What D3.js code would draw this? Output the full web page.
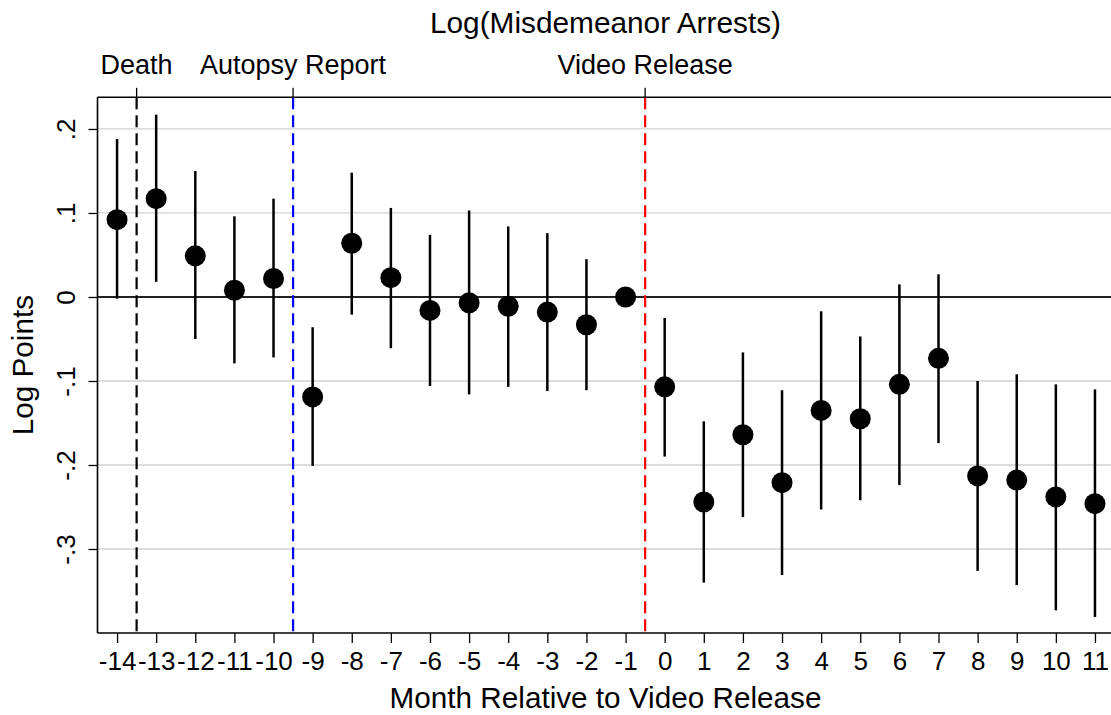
<!DOCTYPE html>
<html>
<head>
<meta charset="utf-8">
<script src="https://cdn.jsdelivr.net/npm/d3@7"></script>
<style>
  html, body { margin: 0; padding: 0; background: #fff; }
  svg { display: block; font-family: "Liberation Sans", Arial, sans-serif; }
</style>
</head>
<body>
<svg id="chart" width="1111" height="715"></svg>
<script>
// Event-study estimates: log misdemeanor arrests by month relative to the video release
const months = [-14, -13, -12, -11, -10, -9, -8, -7, -6, -5, -4, -3, -2, -1, 0, 1, 2, 3, 4, 5, 6, 7, 8, 9, 10, 11];
const coef  = [0.092, 0.117, 0.049, 0.008, 0.022, -0.119, 0.064, 0.023, -0.016, -0.007, -0.011, -0.018, -0.033, 0,
               -0.107, -0.244, -0.164, -0.221, -0.135, -0.145, -0.104, -0.073, -0.213, -0.218, -0.238, -0.246];
const lower = [-0.002, 0.018, -0.050, -0.079, -0.072, -0.201, -0.021, -0.061, -0.106, -0.116, -0.107, -0.112, -0.111, null,
               -0.190, -0.340, -0.262, -0.331, -0.253, -0.242, -0.224, -0.174, -0.326, -0.343, -0.373, -0.381];
const upper = [0.188, 0.217, 0.150, 0.096, 0.117, -0.036, 0.148, 0.106, 0.074, 0.103, 0.084, 0.076, 0.045, null,
               -0.025, -0.148, -0.066, -0.111, -0.017, -0.047, 0.015, 0.027, -0.100, -0.092, -0.104, -0.110];

const yTicks = [-0.3, -0.2, -0.1, 0, 0.1, 0.2];
const yTickLabels = ["-.3", "-.2", "-.1", "0", ".1", ".2"];

const events = [
  { label: "Death", at: -13.5, color: "#000000" },
  { label: "Autopsy Report", at: -9.5, color: "#0000ff" },
  { label: "Video Release", at: -0.5, color: "#ff0000" }
];

const titleText = "Log(Misdemeanor Arrests)";
const xTitle = "Month Relative to Video Release";
const yTitle = "Log Points";

const svg = d3.select("#chart");
const plot = { left: 97.5, right: 1112, top: 97.3, bottom: 633 };

const x = d3.scaleLinear().domain([-14.5, 11.41]).range([plot.left, 1111]);
const y = d3.scaleLinear().domain([-0.4, 0.2377]).range([plot.bottom, plot.top]);

// horizontal gridlines
svg.append("g").selectAll("line")
  .data(yTicks.filter(d => d !== 0))
  .join("line")
  .attr("x1", plot.left).attr("x2", plot.right)
  .attr("y1", d => y(d)).attr("y2", d => y(d))
  .attr("stroke", "#d2d2d2").attr("stroke-width", 1.3);

// zero reference line
svg.append("line")
  .attr("x1", plot.left).attr("x2", plot.right)
  .attr("y1", y(0)).attr("y2", y(0))
  .attr("stroke", "#222").attr("stroke-width", 2);

// event markers: dashed verticals plus ticks and labels above the frame
const ev = svg.append("g");
ev.selectAll("line.dash").data(events).join("line")
  .attr("class", "dash")
  .attr("x1", d => x(d.at)).attr("x2", d => x(d.at))
  .attr("y1", plot.top).attr("y2", plot.bottom)
  .attr("stroke", d => d.color).attr("stroke-width", 2.2)
  .attr("stroke-dasharray", "12,6");
ev.selectAll("line.tick").data(events).join("line")
  .attr("class", "tick")
  .attr("x1", d => x(d.at)).attr("x2", d => x(d.at))
  .attr("y1", plot.top - 9.5).attr("y2", plot.top)
  .attr("stroke", "#000").attr("stroke-width", 1.3);
ev.selectAll("text").data(events).join("text")
  .attr("x", d => x(d.at)).attr("y", 74)
  .attr("text-anchor", "middle")
  .attr("font-size", 27)
  .text(d => d.label);

// frame: top border and left/bottom axes
svg.append("line")
  .attr("x1", plot.left).attr("x2", plot.right)
  .attr("y1", plot.top).attr("y2", plot.top)
  .attr("stroke", "#000").attr("stroke-width", 1.6);

const xAxis = d3.axisBottom(x).tickValues(months).tickSize(10).tickSizeOuter(0)
  .tickFormat(d => String(d));
const gx = svg.append("g").attr("transform", `translate(0,${plot.bottom})`).call(xAxis);
gx.select(".domain").attr("stroke", "#000").attr("stroke-width", 1.6)
  .attr("d", `M${plot.left},0H${plot.right}`);
gx.selectAll(".tick line").attr("stroke", "#000").attr("stroke-width", 1.3);
gx.selectAll(".tick text")
  .attr("font-family", "'Liberation Sans', Arial, sans-serif")
  .attr("font-size", 26).attr("fill", "#000")
  .attr("dy", null).attr("y", 36.5);

const yAxis = d3.axisLeft(y).tickValues(yTicks).tickSize(9).tickSizeOuter(0)
  .tickFormat((d, i) => yTickLabels[i]);
const gy = svg.append("g").attr("transform", `translate(${plot.left},0)`).call(yAxis);
gy.select(".domain").attr("stroke", "#000").attr("stroke-width", 1.6)
  .attr("d", `M0,${plot.top}V${plot.bottom}`);
gy.selectAll(".tick line").attr("stroke", "#000").attr("stroke-width", 1.3);
gy.selectAll(".tick text")
  .attr("font-family", "'Liberation Sans', Arial, sans-serif")
  .attr("font-size", 26).attr("fill", "#000")
  .attr("x", null).attr("dy", null)
  .attr("text-anchor", "middle")
  .attr("transform", "translate(-22.5,0) rotate(-90)");

// confidence intervals
const rows = months.map((m, i) => ({ m, b: coef[i], lo: lower[i], hi: upper[i] }));
svg.append("g").selectAll("line")
  .data(rows.filter(d => d.lo !== null))
  .join("line")
  .attr("x1", d => x(d.m)).attr("x2", d => x(d.m))
  .attr("y1", d => y(d.hi)).attr("y2", d => y(d.lo))
  .attr("stroke", "#000").attr("stroke-width", 2.5);

// point estimates
svg.append("g").selectAll("circle")
  .data(rows)
  .join("circle")
  .attr("cx", d => x(d.m)).attr("cy", d => y(d.b))
  .attr("r", 10.5).attr("fill", "#000");

// titles
svg.append("text")
  .attr("x", 605.5).attr("y", 32.5)
  .attr("text-anchor", "middle").attr("font-size", 29.8)
  .text(titleText);
svg.append("text")
  .attr("x", 605.5).attr("y", 708)
  .attr("text-anchor", "middle").attr("font-size", 29.7)
  .text(xTitle);
svg.append("text")
  .attr("transform", `translate(33,${(plot.top + plot.bottom) / 2}) rotate(-90)`)
  .attr("text-anchor", "middle").attr("font-size", 29.7)
  .text(yTitle);
</script>
</body>
</html>
